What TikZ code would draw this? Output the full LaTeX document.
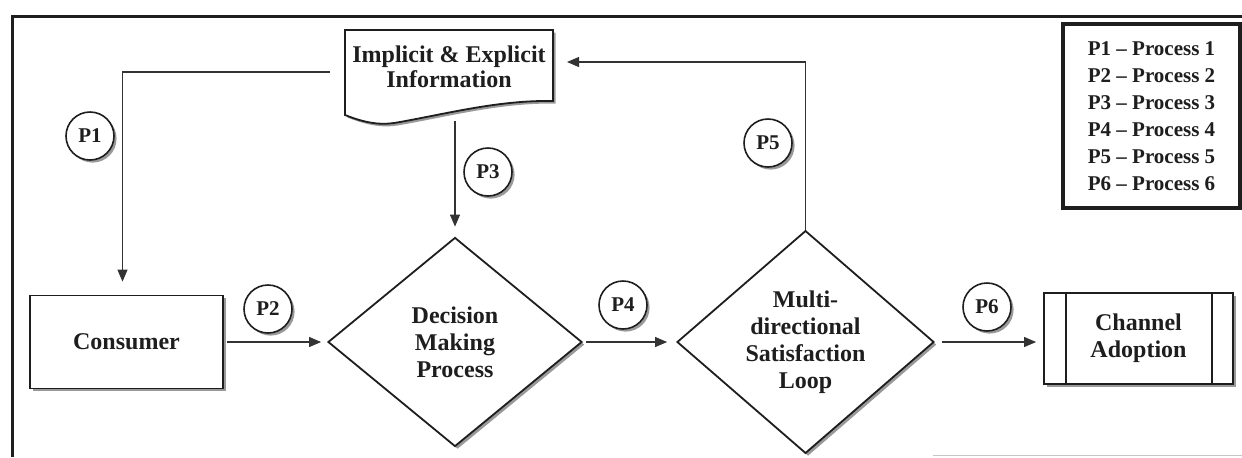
\documentclass[tikz,border=0pt]{standalone}
\usepackage{fontspec}
\setmainfont{Liberation Serif}
\usetikzlibrary{shapes.geometric,shadows,arrows.meta,calc}
\definecolor{ink}{HTML}{1E1E1E}
\definecolor{wire}{HTML}{333333}
\tikzset{
  every node/.style={font=\bfseries\fontsize{12}{13.5}\selectfont, text=ink},
  shade/.style={drop shadow={shadow xshift=1.3pt, shadow yshift=-1.3pt, fill=black, opacity=0.4}},
  box/.style={draw=ink, line width=0.9pt, fill=white, shade, rectangle, inner sep=0pt, align=center},
  choice/.style={draw=ink, line width=0.9pt, fill=white, shade, diamond, inner sep=0pt, align=center},
  tag/.style={draw=ink, line width=0.8pt, fill=white, shade, circle, minimum size=24pt, inner sep=0pt,
              font=\bfseries\fontsize{10.5}{12}\selectfont},
  conn/.style={draw=wire, line width=0.55pt, -{Triangle[length=6pt,width=5pt]}},
}
\begin{document}
\begin{tikzpicture}[x=0.5pt, y=-0.5pt]
\useasboundingbox (0,0) rectangle (1242,457);

% outer frame
\draw[ink, line width=1.8pt] (12.5,457) -- (12.5,16.5) -- (1242,16.5);
\draw[gray!45, line width=0.5pt] (933,455.5) -- (1242,455.5);

% document shape for the information source
\path[draw=ink, line width=0.9pt, fill=white, shade]
  (345,30) -- (553,30) -- (553,101)
  .. controls (500,100) and (450,113) .. (400,122)
  .. controls (385,125) and (370,125) .. (345,115) -- cycle;
\node[align=center, font=\bfseries\fontsize{12}{12.5}\selectfont] (info) at (449,67) {Implicit \& Explicit\\Information};

% main flow
\node[box, minimum width=96.5pt, minimum height=46.5pt] (cons) at (126.5,342) {Consumer};
\node[choice, minimum width=127pt, minimum height=104.5pt] (dec) at (455,342) {Decision\\Making\\Process};
\node[choice, minimum width=128.5pt, minimum height=104pt] (multi) at (805.5,342) {Multi-\\directional\\Satisfaction\\Loop};
\node[box, minimum width=94.5pt, minimum height=45.5pt] (chan) at (1138.5,338.5) {Channel\\Adoption};
\draw[ink, line width=0.9pt] ($(chan.north west)+(23,0)$) -- ($(chan.south west)+(23,0)$);
\draw[ink, line width=0.9pt] ($(chan.north east)+(-22,0)$) -- ($(chan.south east)+(-22,0)$);

% free ends of the connectors at the information source
\coordinate (p1s) at (330,72);
\coordinate (p3s) at (455,121);
\coordinate (p5e) at (567,62);

% connectors
\draw[conn] (p1s) -| ([xshift=-2pt, yshift=6.5pt]cons.north);
\draw[conn] ([xshift=1.5pt]cons.east) -- ([xshift=-3pt]dec.west);
\draw[conn] (p3s) -- ([yshift=5pt]dec.north);
\draw[conn] ([xshift=1.5pt]dec.east) -- ([xshift=-4.5pt]multi.west);
\draw[conn] (multi.north) |- (p5e);
\draw[conn] ([xshift=3.5pt]multi.east) -- ([xshift=-3.5pt]multi.east -| chan.west);

% process labels
\node[tag] (c1) at (90,136) {P1};
\node[tag] (c2) at (268,309) {P2};
\node[tag] (c3) at (488,172) {P3};
\node[tag] (c4) at (623,305) {P4};
\node[tag] (c5) at (768,143) {P5};
\node[tag] (c6) at (987,307) {P6};

% legend
\node[draw=ink, line width=1.6pt, fill=white, minimum width=88.5pt, minimum height=92pt,
      align=center, inner sep=0pt, font=\bfseries\fontsize{10.5}{13.5}\selectfont] (legend) at (1151.5,116)
  {P1 -- Process 1\\P2 -- Process 2\\P3 -- Process 3\\P4 -- Process 4\\P5 -- Process 5\\P6 -- Process 6};
\end{tikzpicture}
\end{document}
